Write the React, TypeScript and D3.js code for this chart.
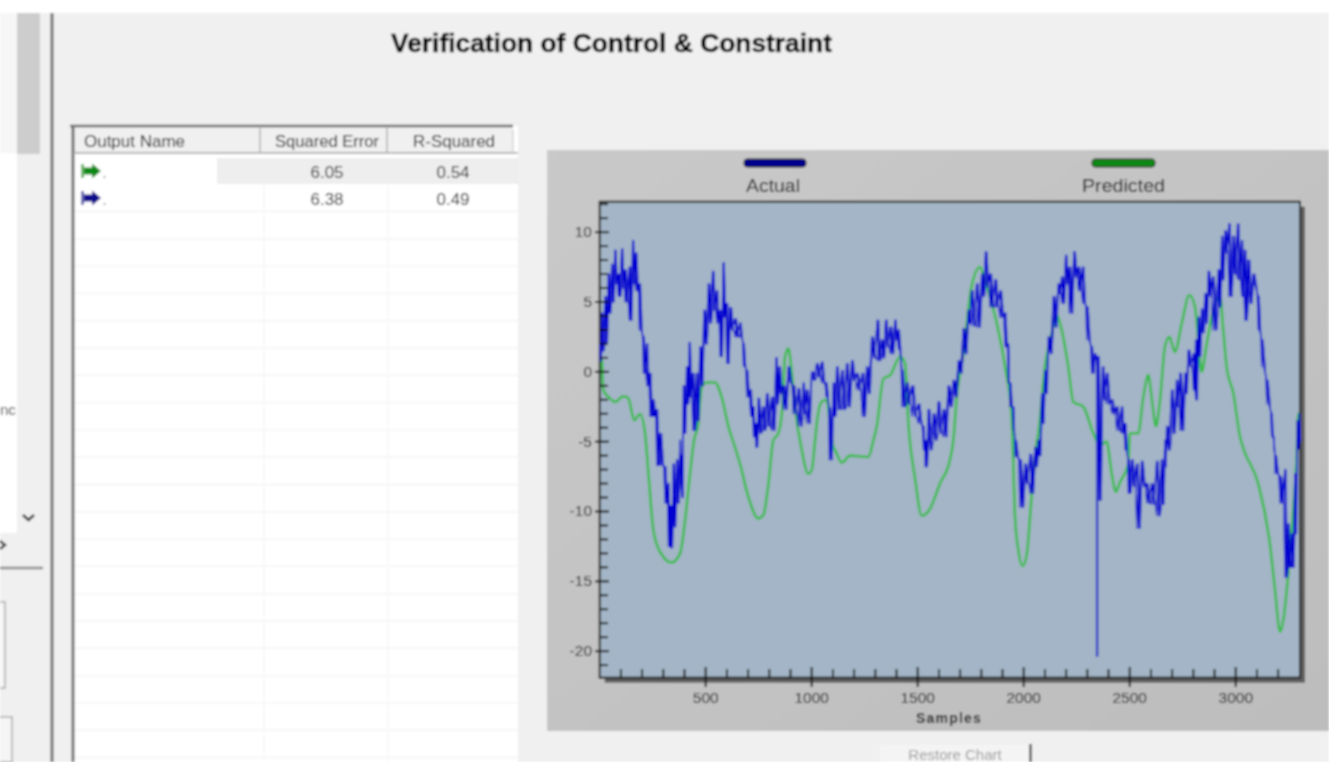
import React from "react";
import * as d3 from "d3";

const titleText = "Verification of Control & Constraint";
const seriesNames = ["Actual", "Predicted"];
const tableHeaders = ["Output Name", "Squared Error", "R-Squared"];
const squaredErrors = ["6.05", "6.38"];
const rSquared = ["0.54", "0.49"];
const xTickValues = [500, 1000, 1500, 2000, 2500, 3000];
const yTickValues = [10, 5, 0, -5, -10, -15, -20];

const predictedSamples = [0, 10, 17, 41, 72, 112, 135, 163, 190, 214, 230, 253, 285, 340, 379, 403, 426, 445, 465, 481, 505, 544, 575, 607, 638, 662, 701, 748, 772, 796, 819, 843, 862, 874, 890, 906, 921, 953, 984, 1000, 1016, 1024, 1047, 1071, 1086, 1102, 1110, 1142, 1181, 1267, 1291, 1307, 1338, 1370, 1417, 1440, 1456, 1487, 1519, 1558, 1605, 1652, 1668, 1684, 1715, 1754, 1794, 1817, 1849, 1880, 1912, 1943, 1959, 1975, 1995, 2014, 2037, 2061, 2069, 2100, 2132, 2155, 2179, 2210, 2234, 2281, 2328, 2360, 2391, 2415, 2435, 2454, 2493, 2501, 2540, 2564, 2588, 2603, 2624, 2643, 2666, 2687, 2713, 2745, 2781, 2808, 2823, 2839, 2863, 2894, 2926, 2941, 2957, 2989, 3020, 3036, 3106, 3161, 3185, 3209, 3224, 3248, 3272, 3287, 3295, 3300];
const predictedValues = [1.0, 0.8, -1.3, -1.8, -2.15, -1.75, -1.9, -3.46, -3.03, -4.4, -7.3, -11.3, -12.9, -13.65, -13.0, -10.6, -7.3, -4.9, -3.7, -1.07, -0.76, -0.76, -1.8, -3.9, -5.4, -6.6, -8.95, -10.5, -10.25, -8.0, -4.9, -4.4, -2.5, 1.07, 1.67, -0.1, -2.5, -5.6, -7.3, -7.05, -4.9, -3.7, -2.15, -2.0, -3.7, -5.4, -5.6, -6.5, -6.0, -6.1, -4.9, -3.9, -0.5, -0.24, 1.07, 0.6, -3.7, -7.6, -10.3, -9.8, -8.0, -6.3, -4.9, -1.8, 1.3, 6.1, 7.5, 6.56, 4.9, 3.0, 0.36, -3.2, -10.4, -12.8, -13.9, -13.1, -8.95, -5.1, -4.4, 0.36, 2.75, 4.06, 3.0, 0.36, -2.15, -2.5, -4.4, -5.25, -5.0, -7.3, -8.6, -7.9, -6.6, -4.4, -4.4, -1.8, -0.24, -1.8, -3.9, -2.0, 1.8, 2.5, 1.43, 3.46, 5.5, 4.65, 2.27, 0.0, 2.0, 4.4, 5.4, 3.0, 0.36, -1.55, -4.65, -5.5, -8.0, -12.3, -15.6, -18.6, -17.8, -14.4, -9.7, -6.1, -3.0, -3.9];

const actualSamples = [0, 10, 25, 41, 57, 72, 88, 104, 120, 140, 156, 171, 187, 206, 222, 237, 253, 269, 285, 308, 324, 335, 347, 363, 379, 387, 395, 410, 423, 439, 457, 473, 492, 513, 533, 552, 568, 583, 599, 615, 638, 662, 678, 693, 712, 725, 737, 748, 769, 788, 811, 832, 847, 866, 890, 913, 937, 961, 976, 1000, 1024, 1047, 1068, 1083, 1102, 1118, 1142, 1165, 1189, 1212, 1239, 1259, 1283, 1310, 1330, 1349, 1370, 1393, 1409, 1425, 1448, 1472, 1503, 1527, 1535, 1550, 1574, 1597, 1621, 1644, 1668, 1692, 1715, 1739, 1754, 1778, 1802, 1820, 1841, 1865, 1888, 1912, 1927, 1935, 1951, 1959, 1982, 2006, 2030, 2053, 2069, 2085, 2100, 2116, 2140, 2163, 2179, 2198, 2215, 2237, 2258, 2278, 2297, 2320, 2336, 2350, 2372, 2391, 2415, 2438, 2462, 2478, 2493, 2509, 2533, 2556, 2580, 2603, 2627, 2650, 2666, 2674, 2698, 2721, 2737, 2761, 2776, 2800, 2811, 2823, 2839, 2855, 2871, 2891, 2918, 2934, 2949, 2968, 2988, 3009, 3028, 3043, 3059, 3083, 3106, 3122, 3146, 3169, 3180, 3185, 3209, 3232, 3248, 3264, 3279, 3290, 3300];
const actualHigh = [2.0, 4.2, 5.4, 7.0, 7.7, 8.7, 7.0, 8.8, 7.3, 7.5, 9.4, 8.5, 6.3, 2.5, 2.0, -0.1, -2.0, -2.7, -4.4, -6.8, -8.0, -9.6, -6.6, -6.3, -4.9, -6.0, -1.0, 0.36, 2.1, -0.1, -0.1, 1.8, 4.4, 6.3, 7.2, 5.8, 4.4, 7.8, 4.9, 4.6, 3.8, 3.5, 2.0, 0.1, -1.3, -2.5, -3.7, -1.9, -2.5, -1.55, -1.8, 1.0, 0.36, -1.0, 0.36, -1.0, -1.2, -0.8, -1.3, 0.0, 0.6, 0.7, -0.8, -2.6, -0.8, 0.36, 0.1, 0.6, 0.8, -0.1, -0.1, 0.36, 2.5, 3.7, 2.3, 3.7, 3.2, 3.7, 3.0, 0.1, -0.8, -1.0, -2.3, -3.9, -4.9, -2.7, -3.0, -2.15, -2.7, -1.0, -0.6, 0.8, 3.1, 4.4, 5.8, 6.3, 7.0, 8.6, 7.0, 6.6, 5.8, 4.2, 2.0, -0.8, -2.5, -4.9, -6.3, -6.6, -5.9, -5.4, -4.9, -1.55, 0.1, 2.5, 5.4, 6.3, 6.8, 8.35, 7.5, 8.6, 7.5, 7.5, 4.65, 1.8, 1.3, 1.1, 0.36, -0.1, -2.0, -2.5, -2.5, -3.7, -6.3, -6.3, -6.6, -6.4, -8.0, -8.0, -6.4, -6.3, -4.9, -3.9, -1.3, -0.6, -0.1, -0.1, 1.55, 1.3, 2.3, 3.9, 4.5, 5.6, 7.2, 6.8, 7.3, 9.7, 10.1, 10.6, 9.7, 10.6, 9.4, 8.7, 8.0, 7.0, 5.4, 2.3, -0.6, -3.0, -4.65, -6.0, -7.5, -7.0, -10.9, -11.6, -7.3, -3.5, -3.0];
const actualLow = [0.8, 1.5, 2.0, 4.2, 5.0, 6.3, 5.4, 6.0, 5.0, 3.7, 6.3, 5.8, 3.0, -0.1, -1.0, -3.2, -3.2, -6.7, -6.7, -9.4, -12.5, -12.6, -11.1, -9.4, -8.0, -9.0, -4.4, -2.3, -1.8, -4.2, -3.5, -1.0, 2.0, 3.5, 4.4, 3.5, 1.1, 3.9, 0.6, 3.0, 2.5, 2.5, 0.4, -1.8, -3.2, -4.65, -5.4, -4.4, -4.2, -3.9, -4.2, -2.3, -1.55, -2.7, -0.8, -3.0, -3.9, -3.0, -3.7, -0.6, -0.36, -0.8, -1.8, -6.3, -3.2, -2.7, -2.7, -2.5, -0.6, -1.3, -3.2, -1.55, 1.0, 0.8, 1.0, 1.8, 1.3, 2.3, 1.6, -2.5, -2.3, -3.2, -3.7, -5.6, -6.8, -5.6, -4.9, -4.4, -4.65, -2.5, -1.8, -0.1, 1.3, 3.5, 3.3, 3.2, 5.4, 6.1, 4.65, 4.65, 3.9, 1.8, -0.8, -2.5, -4.2, -6.1, -9.7, -8.0, -8.7, -6.8, -6.0, -3.7, -1.55, 1.3, 3.2, 5.6, 4.9, 6.3, 4.2, 6.8, 5.8, 4.9, 2.3, -0.1, 0.9, -9.2, -2.0, -2.3, -3.0, -4.2, -4.4, -5.6, -8.7, -8.2, -11.2, -8.2, -9.4, -9.5, -10.3, -9.5, -6.8, -5.6, -4.4, -2.5, -4.2, -1.55, 0.36, -1.3, -2.0, 1.1, 2.8, 3.5, 5.4, 3.0, 4.65, 6.6, 8.5, 5.4, 7.0, 6.6, 5.4, 3.7, 4.9, 6.1, 3.0, 0.36, -2.3, -4.65, -5.6, -7.3, -9.4, -14.7, -14.0, -14.0, -11.6, -5.5, -5.0];
const actualSpikeSample = 2346;
const actualSpikeTop = 1.0;
const actualSpikeBottom = -20.4;

const rowIndexes = d3.range(0, 21);

const xScale = d3.scaleLinear().domain([0, 3303]).range([599.7, 1300]);
const yScale = d3.scaleLinear().domain([12.18, -21.9]).range([201.7, 677.7]);

const predictedPoints: [number, number][] = predictedSamples.map((s, i) => [s, predictedValues[i]]);
const actualPoints: [number, number][] = actualSamples.flatMap((s, i) => {
  const next = actualSamples[i + 1] ?? s + 8;
  return [
    [s, actualHigh[i]],
    [s + (next - s) * 0.45, actualLow[i]],
  ] as [number, number][];
});
const actualPointsCross: [number, number][] = actualSamples.flatMap((s, i) => {
  const next = actualSamples[i + 1] ?? s + 8;
  return [
    [s, actualLow[i]],
    [s + (next - s) * 0.3, actualHigh[i]],
    [s + (next - s) * 0.72, actualLow[i]],
  ] as [number, number][];
});
const spikePoints: [number, number][] = [
  [actualSpikeSample, actualSpikeTop],
  [actualSpikeSample, actualSpikeBottom],
];

const lineGen = d3
  .line<[number, number]>()
  .x((d) => xScale(d[0]))
  .y((d) => yScale(d[1]));
const smoothGen = d3
  .line<[number, number]>()
  .x((d) => xScale(d[0]))
  .y((d) => yScale(d[1]))
  .curve(d3.curveMonotoneX);

const SANS = "'Liberation Sans', Arial, sans-serif";

function ArrowIcon({ y, color }: { y: number; color: string }) {
  return (
    <g transform={`translate(81,${y})`}>
      <rect x={0} y={-7} width={3} height={14} fill={color} opacity={0.65} />
      <path d="M3,-3.5 L11,-3.5 L11,-7.5 L20,0 L11,7.5 L11,3.5 L3,3.5 Z" fill={color} />
      <circle cx={23.5} cy={6} r={0.9} fill="#777" />
    </g>
  );
}

export default function App() {
  const xMinor = d3.range(100, 3300, 100).filter((v) => v % 500 !== 0);
  const yMinor = d3.range(-21, 13, 1).filter((v) => v % 5 !== 0);
  return (
    <svg
      width={1329}
      height={762}
      viewBox="0 0 1329 762"
      style={{ position: "absolute", left: 0, top: 0, display: "block" }}
    >
      <defs>
        <filter id="soft" x="0" y="0" width="100%" height="100%">
          <feGaussianBlur stdDeviation="0.8" />
        </filter>
        <linearGradient id="panelGrad" x1="0" y1="0" x2="1" y2="1">
          <stop offset="0%" stopColor="#c9c9c9" />
          <stop offset="100%" stopColor="#bdbdbd" />
        </linearGradient>
      </defs>
      <g filter="url(#soft)">
        <rect x={0} y={0} width={1329} height={762} fill="#f0f0f0" />
        <rect x={0} y={0} width={1329} height={13} fill="#ffffff" />

        {/* left side panel */}
        <rect x={0} y={13} width={17} height={140} fill="#f6f6f6" />
        <rect x={0} y={153} width={17} height={380} fill="#ffffff" />
        <rect x={17} y={13} width={23} height={141} fill="#cdcdcd" />
        <text x={0} y={415} fontFamily={SANS} fontSize={15} fill="#333">nc</text>
        <path d="M23,515 L28.5,520 L34,515" fill="none" stroke="#333" strokeWidth={2.6} />
        <path d="M0,541 L5,545 L0,549" fill="none" stroke="#444" strokeWidth={2.6} />
        <line x1={0} x2={43} y1={568} y2={568} stroke="#888" strokeWidth={2.4} />
        <path d="M0,602 L5,602 L5,688 L0,688" fill="#f5f5f5" stroke="#aaa" strokeWidth={1.5} />
        <path d="M0,717 L12,717 L12,762 L0,762" fill="#f5f5f5" stroke="#aaa" strokeWidth={1.5} />
        <line x1={52} x2={52} y1={13} y2={762} stroke="#707070" strokeWidth={3} />

        {/* table */}
        <rect x={73} y={126} width={445} height={636} fill="#ffffff" />
        <rect x={73} y={127} width={440} height={26} fill="#f0f0f0" />
        <line x1={70} x2={513} y1={126} y2={126} stroke="#666" strokeWidth={2.4} />
        <line x1={73} x2={73} y1={126} y2={762} stroke="#707070" strokeWidth={3} />
        <line x1={73} x2={518} y1={153} y2={153} stroke="#a0a0a0" strokeWidth={1.4} />
        <line x1={260} x2={260} y1={128} y2={152} stroke="#a0a0a0" strokeWidth={1.2} />
        <line x1={387} x2={387} y1={128} y2={152} stroke="#a0a0a0" strokeWidth={1.2} />
        <line x1={513} x2={513} y1={130} y2={152} stroke="#c0c0c0" strokeWidth={1} />
        <rect x={217} y={158} width={301} height={26} fill="#eeeeee" />
        {rowIndexes.map((i) => (
          <line key={i} x1={75} x2={518} y1={211.5 + i * 27.3} y2={211.5 + i * 27.3} stroke="#f3f3f3" strokeWidth={1.4} />
        ))}
        <line x1={264} x2={264} y1={185} y2={762} stroke="#f7f7f7" strokeWidth={1.4} />
        <line x1={388} x2={388} y1={185} y2={762} stroke="#f7f7f7" strokeWidth={1.4} />
        <text x={84} y={147} fontFamily={SANS} fontSize={17} fill="#111" textLength={101} lengthAdjust="spacingAndGlyphs">{tableHeaders[0]}</text>
        <text x={275} y={147} fontFamily={SANS} fontSize={17} fill="#111" textLength={104} lengthAdjust="spacingAndGlyphs">{tableHeaders[1]}</text>
        <text x={413} y={147} fontFamily={SANS} fontSize={17} fill="#111" textLength={82} lengthAdjust="spacingAndGlyphs">{tableHeaders[2]}</text>
        {squaredErrors.map((v, i) => (
          <text key={v} x={327} y={178 + i * 27.3} textAnchor="middle" fontFamily={SANS} fontSize={17} fill="#222">{v}</text>
        ))}
        {rSquared.map((v, i) => (
          <text key={v} x={453} y={178 + i * 27.3} textAnchor="middle" fontFamily={SANS} fontSize={17} fill="#222">{v}</text>
        ))}
        <ArrowIcon y={171} color="#0f8a12" />
        <ArrowIcon y={198} color="#10108c" />

        {/* title */}
        <text x={391} y={52} fontFamily={SANS} fontSize={25} fontWeight="bold" fill="#000" stroke="#000" strokeWidth={0.5} textLength={441} lengthAdjust="spacingAndGlyphs">{titleText}</text>

        {/* chart panel */}
        <rect x={547} y={150} width={782} height={581} fill="url(#panelGrad)" />
        <rect x={744} y={159} width={62} height={8} rx={3} fill="#00008c" stroke="#111" strokeWidth={1} />
        <rect x={1092} y={159} width={63} height={8} rx={3} fill="#0a8a14" stroke="#111" strokeWidth={1} />
        <text x={746} y={192} fontFamily={SANS} fontSize={18} fill="#111" textLength={54} lengthAdjust="spacingAndGlyphs">{seriesNames[0]}</text>
        <text x={1082} y={192} fontFamily={SANS} fontSize={18} fill="#111" textLength={83} lengthAdjust="spacingAndGlyphs">{seriesNames[1]}</text>

        {/* plot */}
        <rect x={xScale.range()[0] + 5} y={yScale.range()[0] + 5} width={xScale.range()[1] - xScale.range()[0]} height={yScale.range()[1] - yScale.range()[0]} fill="#5f5f5f" />
        <rect x={xScale.range()[0]} y={yScale.range()[0]} width={xScale.range()[1] - xScale.range()[0]} height={yScale.range()[1] - yScale.range()[0]} fill="#a3b5c6" stroke="#1c1c1c" strokeWidth={2} />
        <path d={smoothGen(predictedPoints) ?? ""} fill="none" stroke="#36bb46" strokeWidth={2.6} strokeLinejoin="round" />
        <path d={lineGen(spikePoints) ?? ""} fill="none" stroke="#2430c8" strokeWidth={2.4} />
        <path d={lineGen(actualPointsCross) ?? ""} fill="none" stroke="#0606d0" strokeWidth={1.1} strokeLinejoin="round" />
        <path d={lineGen(actualPoints) ?? ""} fill="none" stroke="#0606d0" strokeWidth={1.5} strokeLinejoin="round" />

        {/* axes */}
        {yMinor.map((v) => (
          <line key={v} x1={600} x2={608} y1={yScale(v)} y2={yScale(v)} stroke="#111" strokeWidth={1.9} />
        ))}
        {yTickValues.map((v) => (
          <g key={v}>
            <line x1={595} x2={609} y1={yScale(v)} y2={yScale(v)} stroke="#111" strokeWidth={2} />
            <text x={592} y={yScale(v) + 5} textAnchor="end" fontFamily={SANS} fontSize={15.5} fill="#111">{v < 0 ? `-${Math.abs(v)}` : v}</text>
          </g>
        ))}
        {xMinor.map((v) => (
          <line key={v} x1={xScale(v)} x2={xScale(v)} y1={669} y2={678} stroke="#111" strokeWidth={1.9} />
        ))}
        {xTickValues.map((v) => (
          <g key={v}>
            <line x1={xScale(v)} x2={xScale(v)} y1={667} y2={687} stroke="#111" strokeWidth={2} />
            <text x={xScale(v)} y={703} textAnchor="middle" fontFamily={SANS} fontSize={15.5} fill="#111">{v}</text>
          </g>
        ))}
        <text x={949} y={723} textAnchor="middle" fontFamily={SANS} fontSize={14} fontWeight="bold" fill="#111" letterSpacing={1.2}>Samples</text>

        {/* restore button */}
        <rect x={880} y={745} width={150} height={17} fill="#f4f4f4" />
        <line x1={1030.5} x2={1030.5} y1={744} y2={762} stroke="#444" strokeWidth={2.4} />
        <text x={955} y={760} textAnchor="middle" fontFamily={SANS} fontSize={15} fill="#999">Restore Chart</text>
      </g>
    </svg>
  );
}
